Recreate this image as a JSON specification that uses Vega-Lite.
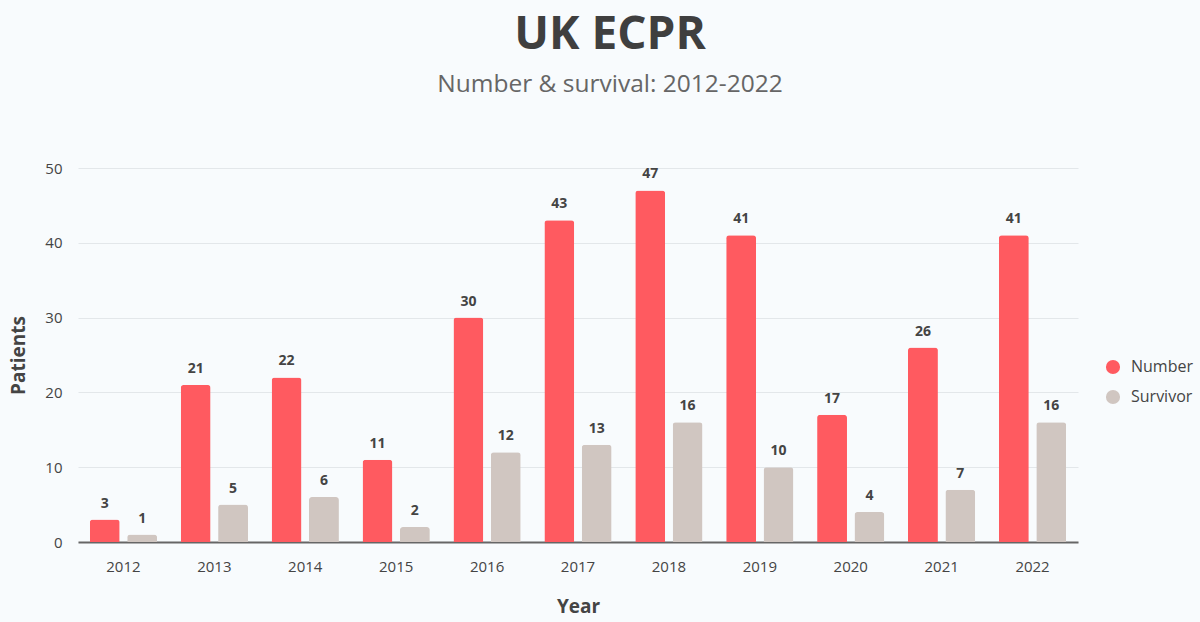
{
  "$schema": "https://vega.github.io/schema/vega-lite/v6.json",
  "width": 1000,
  "height": 374,
  "autosize": {"type": "none"},
  "padding": {"left": 78, "top": 168, "right": 122, "bottom": 80},
  "background": "#F8FBFD",
  "title": {
    "text": "UK ECPR",
    "subtitle": "Number & survival: 2012-2022",
    "anchor": "middle",
    "frame": "group",
    "dx": 32,
    "offset": 64,
    "font": "Open Sans",
    "fontSize": 46,
    "fontWeight": "bold",
    "color": "#3F3F3F",
    "subtitleFont": "Open Sans",
    "subtitleFontSize": 24.5,
    "subtitleColor": "#666666",
    "subtitlePadding": 14
  },
  "data": {
    "values": [
      {"year": "2012", "series": "Number", "value": 3},
      {"year": "2012", "series": "Survivor", "value": 1},
      {"year": "2013", "series": "Number", "value": 21},
      {"year": "2013", "series": "Survivor", "value": 5},
      {"year": "2014", "series": "Number", "value": 22},
      {"year": "2014", "series": "Survivor", "value": 6},
      {"year": "2015", "series": "Number", "value": 11},
      {"year": "2015", "series": "Survivor", "value": 2},
      {"year": "2016", "series": "Number", "value": 30},
      {"year": "2016", "series": "Survivor", "value": 12},
      {"year": "2017", "series": "Number", "value": 43},
      {"year": "2017", "series": "Survivor", "value": 13},
      {"year": "2018", "series": "Number", "value": 47},
      {"year": "2018", "series": "Survivor", "value": 16},
      {"year": "2019", "series": "Number", "value": 41},
      {"year": "2019", "series": "Survivor", "value": 10},
      {"year": "2020", "series": "Number", "value": 17},
      {"year": "2020", "series": "Survivor", "value": 4},
      {"year": "2021", "series": "Number", "value": 26},
      {"year": "2021", "series": "Survivor", "value": 7},
      {"year": "2022", "series": "Number", "value": 41},
      {"year": "2022", "series": "Survivor", "value": 16}
    ]
  },
  "config": {
    "font": "Open Sans",
    "view": {"stroke": null},
    "axis": {
      "labelFont": "Open Sans",
      "labelFontSize": 15,
      "labelColor": "#444444",
      "titleFont": "Open Sans",
      "titleFontSize": 19,
      "titleFontWeight": "bold",
      "titleColor": "#444444",
      "ticks": false
    }
  },
  "encoding": {
    "x": {
      "field": "year",
      "type": "nominal",
      "title": "Year",
      "scale": {"paddingInner": 0.26, "paddingOuter": 0.13},
      "axis": {
        "labelAngle": 0,
        "labelPadding": 17,
        "titlePadding": 23,
        "domainColor": "#666666",
        "domainWidth": 2,
        "grid": false
      }
    },
    "xOffset": {"field": "series", "type": "nominal", "scale": {"paddingInner": 0.2}},
    "y": {
      "field": "value",
      "type": "quantitative",
      "title": "Patients",
      "scale": {"domain": [0, 50]},
      "axis": {
        "values": [0, 10, 20, 30, 40, 50],
        "domain": false,
        "labelPadding": 16,
        "titlePadding": 16,
        "gridColor": "#E3E7EA"
      }
    },
    "color": {
      "field": "series",
      "type": "nominal",
      "title": null,
      "scale": {"domain": ["Number", "Survivor"], "range": ["#FF5A60", "#D0C6C1"]},
      "legend": {
        "orient": "none",
        "legendX": 1027,
        "legendY": 191,
        "symbolType": "circle",
        "symbolSize": 200,
        "labelFont": "Open Sans",
        "labelFontSize": 16,
        "labelColor": "#444444",
        "labelOffset": 10,
        "rowPadding": 14
      }
    }
  },
  "layer": [
    {"mark": {"type": "bar", "cornerRadiusEnd": 3}},
    {
      "mark": {"type": "text", "baseline": "bottom", "dy": -9, "fontSize": 14, "fontWeight": "bold", "font": "Open Sans"},
      "encoding": {"text": {"field": "value", "type": "quantitative"}, "color": {"value": "#444444"}}
    }
  ]
}
